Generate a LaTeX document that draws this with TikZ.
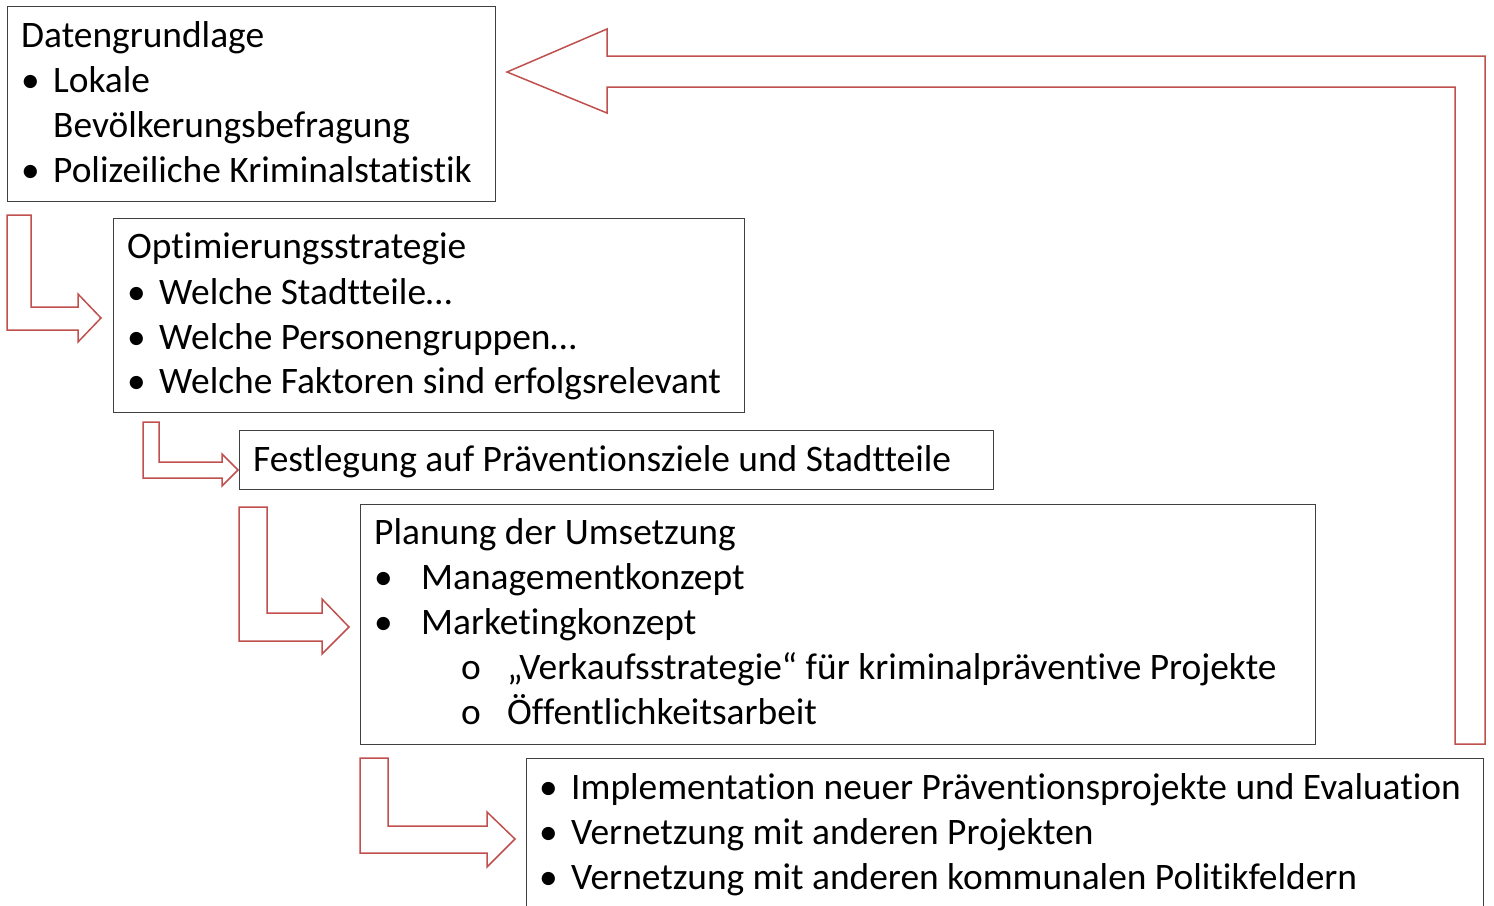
\documentclass[tikz,border=0pt]{standalone}
\usepackage{fontspec}
\setmainfont{Carlito}[Ligatures={NoCommon}]
\definecolor{arrowred}{HTML}{C0504D}
\definecolor{boxgray}{HTML}{404040}
\begin{document}
\begin{tikzpicture}[x=1pt,y=-1pt,
  box/.style={draw=boxgray, line width=1.3pt, inner sep=0pt, anchor=north west, fill=white},
  txt/.style={anchor=base west, inner sep=0pt, font=\fontsize{37.4}{45}\selectfont},
  blockarrow/.style={draw=arrowred, line width=1.5pt, fill=white, line join=miter}]
\useasboundingbox (0,0) rectangle (1494,905);
% boxes
\node[box, minimum width=488pt, minimum height=195pt] (b1) at (7,6) {};
\node[box, minimum width=631pt, minimum height=194pt] (b2) at (113,218) {};
\node[box, minimum width=754pt, minimum height=59pt] (b3) at (239,430) {};
\node[box, minimum width=955pt, minimum height=240pt] (b4) at (360,504) {};
\begin{scope}
\clip (0,0) rectangle (1494,905);
\node[box, minimum width=957pt, minimum height=170pt] (b5) at (526,758) {};
\end{scope}
% block arrows
\draw[blockarrow] (7,215) -- (31,215) -- (31,307) -- (78,307) -- (78,294) -- (101,318) -- (78,342) -- (78,330) -- (7,330) -- cycle;
\draw[blockarrow] (143,422) -- (159,422) -- (159,462) -- (222,462) -- (222,454) -- (238,470) -- (222,486) -- (222,478) -- (143,478) -- cycle;
\draw[blockarrow] (239,507) -- (267,507) -- (267,613) -- (322,613) -- (322,599) -- (349,627) -- (322,654) -- (322,641) -- (239,641) -- cycle;
\draw[blockarrow] (360,758) -- (388,758) -- (388,826) -- (487,826) -- (487,812) -- (515,839) -- (487,867) -- (487,853) -- (360,853) -- cycle;
\draw[blockarrow] (1455,744) -- (1455,87) -- (607,87) -- (607,113) -- (507,72) -- (607,29) -- (607,56) -- (1485,56) -- (1485,744) -- cycle;
% texts box 1
\node[txt] (t11) at (21,47) {Datengrundlage};
\node[txt] (t12b) at (21,92) {•};
\node[txt] (t12) at (53,92) {Lokale};
\node[txt] (t13) at (53,137) {Bevölkerungsbefragung};
\node[txt] (t14b) at (21,182) {•};
\node[txt] (t14) at (53,182) {Polizeiliche Kriminalstatistik};
% box 2
\node[txt] (t21) at (127,258) {Optimierungsstrategie};
\node[txt] (t22b) at (127,304) {•};
\node[txt] (t22) at (159,304) {Welche Stadtteile…};
\node[txt] (t23b) at (127,349) {•};
\node[txt] (t23) at (159,349) {Welche Personengruppen…};
\node[txt] (t24b) at (127,393) {•};
\node[txt] (t24) at (159,393) {Welche Faktoren sind erfolgsrelevant};
% box 3
\node[txt] (t31) at (253,471) {Festlegung auf Präventionsziele und Stadtteile};
% box 4
\node[txt] (t41) at (374,544) {Planung der Umsetzung};
\node[txt] (t42b) at (374,589) {•};
\node[txt] (t42) at (421,589) {Managementkonzept};
\node[txt] (t43b) at (374,634) {•};
\node[txt] (t43) at (421,634) {Marketingkonzept};
\node[txt] (t44b) at (461,679) {o};
\node[txt] (t44) at (507,679) {„Verkaufsstrategie“ für kriminalpräventive Projekte};
\node[txt] (t45b) at (461,724) {o};
\node[txt] (t45) at (507,724) {Öffentlichkeitsarbeit};
% box 5
\node[txt] (t51b) at (539,799) {•};
\node[txt] (t51) at (571,799) {Implementation neuer Präventionsprojekte und Evaluation};
\node[txt] (t52b) at (539,844) {•};
\node[txt] (t52) at (571,844) {Vernetzung mit anderen Projekten};
\node[txt] (t53b) at (539,889) {•};
\node[txt] (t53) at (571,889) {Vernetzung mit anderen kommunalen Politikfeldern};
\end{tikzpicture}
\end{document}
